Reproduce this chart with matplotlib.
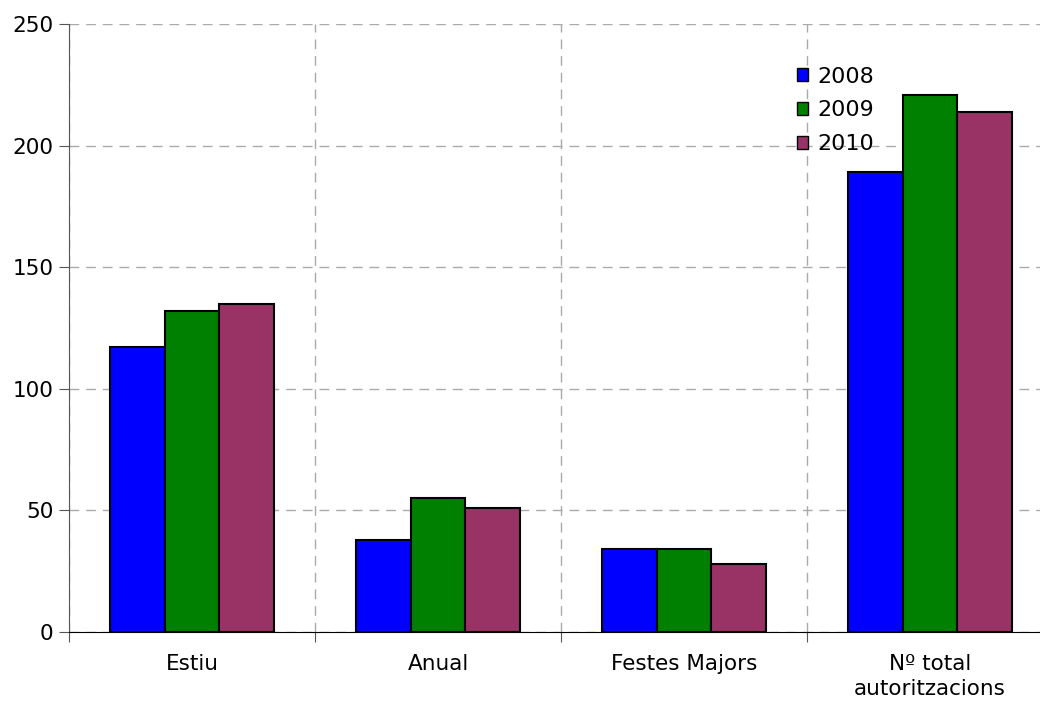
import numpy as np
import matplotlib.pyplot as plt
import matplotlib.patches as mpatches

categories = ['Estiu', 'Anual', 'Festes Majors', 'Nº total\nautoritzacions']
years = ['2008', '2009', '2010']
v2008 = [117, 38, 34, 189]
v2009 = [132, 55, 34, 221]
v2010 = [135, 51, 28, 214]

colors = ['#0000ff', '#008000', '#993366']

fig = plt.figure(figsize=(10.4, 7.01), dpi=100)
ax = fig.add_axes([69/1040, 1 - 632/701, 984/1040, 608/701])

x = np.arange(len(categories))
w = 0.222
for i, vals in enumerate([v2008, v2009, v2010]):
    ax.bar(x + (i - 1) * w, vals, w, color=colors[i], edgecolor='black',
           linewidth=1.5, zorder=3)

ax.set_xlim(-0.5, len(categories) - 0.5)
ax.set_ylim(0, 250)
ax.set_yticks(np.arange(0, 251, 50))
ax.tick_params(axis='y', labelsize=15.5, length=7, color='#555555', direction='out', pad=4)

# boundaries between categories get the ticks, labels sit in the middle
ax.set_xticks(np.arange(len(categories) + 1) - 0.5)
ax.set_xticklabels([])
ax.set_xticks(x, minor=True)
ax.set_xticklabels(categories, minor=True, fontsize=15.5, linespacing=1.3)
ax.tick_params(axis='x', which='minor', length=0, pad=16)
ax.tick_params(axis='x', which='major', length=7, color='#555555')

ax.grid(True, which='major', linestyle=(0, (7, 5)), color='#aaaaaa', linewidth=1, zorder=0)

for s in ['top', 'right']:
    ax.spines[s].set_visible(False)
ax.spines['left'].set_color('#555555')
ax.spines['bottom'].set_color('black')
ax.spines['bottom'].set_zorder(4)

handles = [mpatches.Patch(facecolor=c, edgecolor='black', label=y) for c, y in zip(colors, years)]
ax.legend(handles=handles, loc='upper left', bbox_to_anchor=(0.74, 0.93), frameon=False,
          fontsize=16, handlelength=0.5, handleheight=0.5, handletextpad=0.4,
          labelspacing=0.62, borderaxespad=0, borderpad=0)

plt.savefig('out.png', dpi=100)
